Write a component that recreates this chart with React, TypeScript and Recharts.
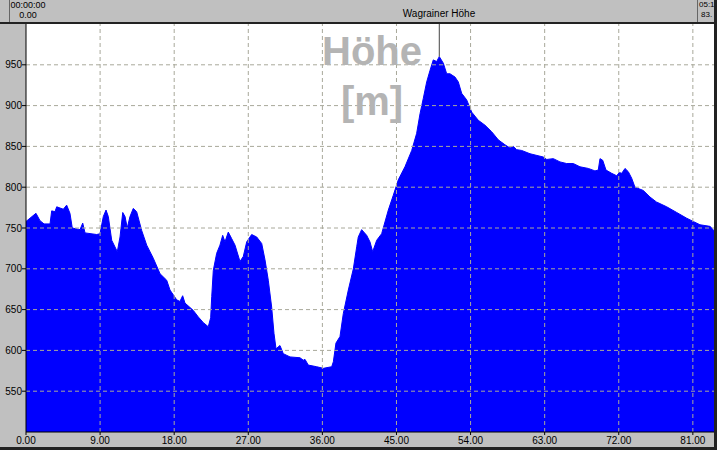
import {
  AreaChart,
  Area,
  XAxis,
  YAxis,
  CartesianGrid,
  ReferenceLine,
} from "recharts";

// distance along the route (x axis)
const distance = [
  0.0, 1.21, 1.7, 2.19, 2.92, 3.12, 3.52, 3.73, 4.53, 4.94, 5.34, 5.62, 6.56, 6.89, 7.17,
  8.59, 8.99, 9.39, 9.72, 10.0, 10.41, 11.09, 11.42, 11.75, 12.03, 12.3, 12.63, 13.03,
  13.44, 14.05, 14.66, 15.46, 16.28, 17.09, 17.49, 18.3, 18.7, 19.03, 19.31, 20.32, 20.93,
  21.54, 22.14, 22.43, 22.56, 22.75, 23.16, 23.56, 23.89, 24.17, 24.57, 24.98, 25.39,
  25.99, 26.39, 26.81, 27.41, 28.02, 28.63, 29.03, 29.43, 29.84, 30.12, 30.37, 30.85,
  31.25, 32.07, 33.28, 33.68, 33.89, 34.29, 35.31, 36.11, 37.13, 37.33, 37.65, 38.14,
  38.54, 39.15, 39.76, 40.17, 40.36, 40.77, 41.38, 41.78, 42.11, 42.6, 43.2, 44.01,
  44.61, 45.22, 46.03, 46.85, 47.45, 47.86, 48.26, 48.67, 49.07, 49.47, 49.88, 50.2,
  50.69, 51.1, 51.5, 52.11, 52.51, 52.92, 53.53, 54.14, 54.94, 55.75, 56.56, 57.37,
  58.18, 58.79, 59.19, 59.6, 60.21, 61.22, 62.83, 63.25, 64.05, 64.86, 65.67, 66.48,
  67.29, 68.3, 69.11, 69.51, 69.72, 70.05, 70.45, 71.14, 71.75, 72.06, 72.36, 72.76,
  73.16, 73.57, 73.97, 74.98, 75.79, 76.56, 77.82, 79.04, 80.25, 81.05, 81.86, 83.08,
  83.48, 83.69,
];

// elevation in metres
const elevation = [
  758, 768, 759, 755, 755, 771, 770, 776, 773, 778, 768, 750, 748, 756, 744,
  742, 743, 764, 772, 764, 735, 721, 739, 769, 764, 750, 764, 774,
  770, 747, 729, 713, 694, 686, 674, 662, 660, 667, 658, 649, 641,
  634, 629, 640, 666, 698, 719, 729, 741, 733, 745, 737, 729,
  709, 715, 733, 742, 739, 731, 711, 686, 653, 621, 602, 606,
  596, 592, 591, 588, 589, 582, 580, 578, 580, 586, 609, 617,
  645, 674, 700, 727, 739, 748, 741, 733, 721, 735, 743, 772,
  790, 809, 825, 845, 866, 890, 909, 929, 943, 956, 954, 960,
  952, 939, 939, 935, 929, 915, 907, 892, 882, 876, 868, 858,
  852, 848, 850, 846, 845, 841, 837, 834, 835, 831, 829, 829,
  825, 823, 820, 821, 835, 833, 821, 817, 814, 818, 817, 823,
  819, 811, 800, 796, 788, 782, 776, 769, 762, 758, 754, 752,
  748, 745,
];

const xTicks = [0, 9, 18, 27, 36, 45, 54, 63, 72, 81];
const yTicks = [550, 600, 650, 700, 750, 800, 850, 900, 950];

const peakName = "Wagrainer Höhe";
const peakKm = 50.2;
const peakHeight = 960;

const data = distance.map((d, i) => ({ km: d, hoehe: elevation[i] }));

const font = "'Liberation Sans', Arial, sans-serif";
const gridColor = "#a8a89a";

const App = () => {
  return (
    <div
      style={{
        position: "absolute",
        left: 0,
        top: 0,
        width: 717,
        height: 450,
        background: "#c0c0c0",
        fontFamily: font,
        overflow: "hidden",
      }}
    >
      {/* top bar */}
      <div style={{ position: "absolute", left: 0, top: 22, width: 717, height: 2, background: "#222" }} />
      <div
        style={{
          position: "absolute",
          left: 9,
          top: 0,
          width: 36,
          height: 22,
          borderLeft: "1px solid #666",
          fontSize: 9,
          lineHeight: "10px",
          textAlign: "center",
          color: "#000",
        }}
      >
        <div>00:00:00</div>
        <div>0.00</div>
      </div>
      <div
        style={{
          position: "absolute",
          left: 697,
          top: 0,
          width: 17,
          height: 22,
          borderLeft: "1px solid #666",
          fontSize: 8,
          lineHeight: "10px",
          whiteSpace: "nowrap",
          color: "#000",
        }}
      >
        <div style={{ paddingLeft: 1 }}>05:1</div>
        <div style={{ paddingLeft: 3 }}>83.</div>
      </div>
      <div
        style={{
          position: "absolute",
          left: 339,
          top: 8,
          width: 200,
          textAlign: "center",
          fontSize: 10,
          color: "#000",
        }}
      >
        {peakName}
      </div>

      <div style={{ position: "absolute", left: 0, top: 0 }}>
        <AreaChart
          width={717}
          height={450}
          data={data}
          margin={{ top: 24, right: 2, bottom: 0, left: 0 }}
        >
          <CartesianGrid fill="#ffffff" horizontal={false} vertical={false} />
          <XAxis
            dataKey="km"
            type="number"
            domain={[0, 83.69]}
            ticks={xTicks}
            tickFormatter={(v: number) => v.toFixed(2)}
            height={18}
            stroke="#000"
            tickSize={3}
            tick={{ fontSize: 10, fill: "#000", fontFamily: font }}
            interval={0}
          />
          <YAxis
            type="number"
            domain={[500, 1000]}
            ticks={yTicks}
            width={26}
            stroke="#000"
            tickSize={4}
            tickMargin={0}
            tick={{ fontSize: 10, fill: "#000", fontFamily: font }}
            interval={0}
            allowDataOverflow
          />
          <Area
            type="linear"
            dataKey="hoehe"
            stroke="#0000ff"
            strokeWidth={1}
            fill="#0000ff"
            fillOpacity={1}
            isAnimationActive={false}
            dot={false}
            activeDot={false}
          />
          {yTicks.map((v) => (
            <ReferenceLine key={"h" + v} y={v} stroke={gridColor} strokeDasharray="4 3" />
          ))}
          {xTicks.slice(1).map((v) => (
            <ReferenceLine key={"v" + v} x={v} stroke={gridColor} strokeDasharray="4 3" />
          ))}
          <ReferenceLine
            segment={[
              { x: peakKm, y: peakHeight },
              { x: peakKm, y: 1000 },
            ]}
            stroke="#444"
            strokeWidth={1}
          />
        </AreaChart>
      </div>

      {/* axis title */}
      <div
        style={{
          position: "absolute",
          left: 272,
          top: 26,
          width: 200,
          textAlign: "center",
          fontSize: 40,
          fontWeight: "bold",
          lineHeight: "50px",
          color: "#b4b4b4",
        }}
      >
        <div>Höhe</div>
        <div>[m]</div>
      </div>

      {/* frame */}
      <div style={{ position: "absolute", left: 714, top: 0, width: 3, height: 450, background: "#222" }} />
      <div style={{ position: "absolute", left: 0, top: 447, width: 717, height: 3, background: "#222" }} />
    </div>
  );
};

export default App;
